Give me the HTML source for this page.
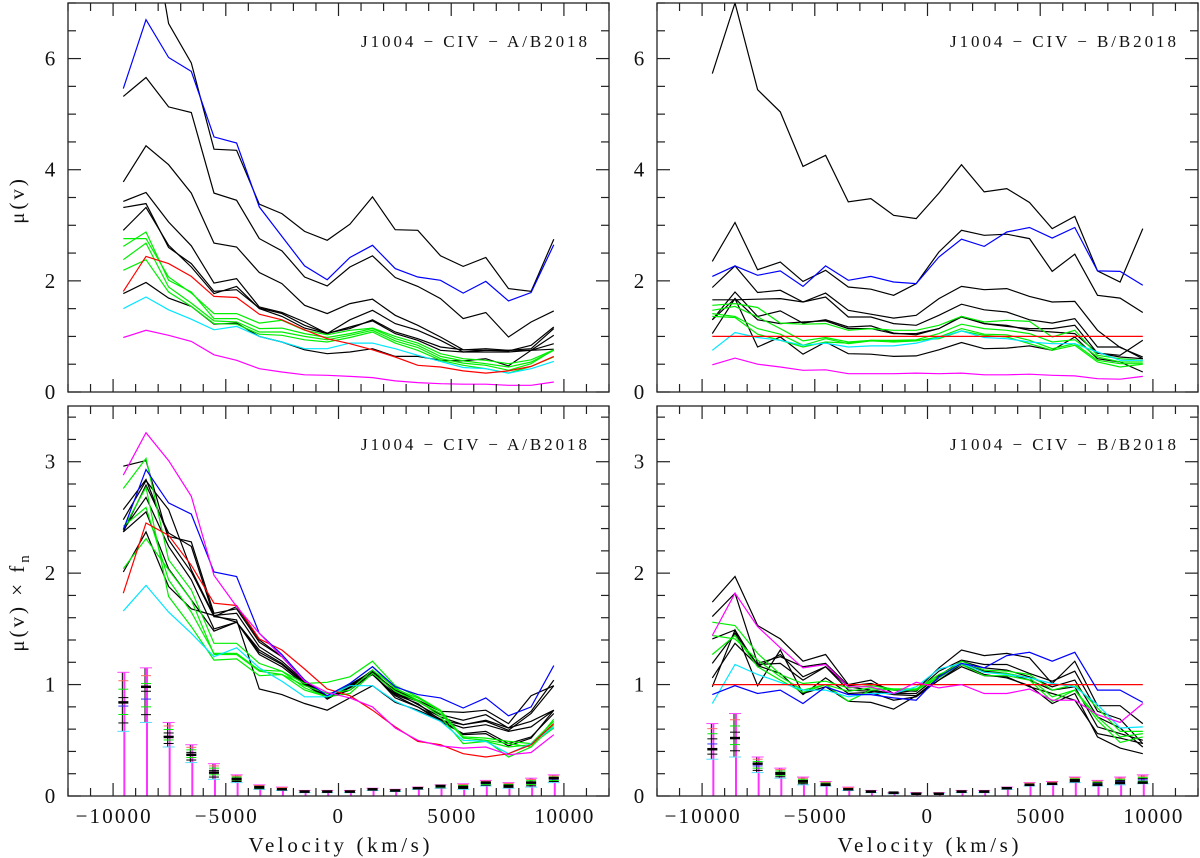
<!DOCTYPE html>
<html><head><meta charset="utf-8"><style>
html,body{margin:0;padding:0;background:#fff;}
svg{display:block;font-family:"Liberation Serif",serif;}
</style></head><body>
<svg id="fig" width="1200" height="858" viewBox="0 0 1200 858" xmlns="http://www.w3.org/2000/svg"></svg>
<script>
// ---- data ----
const velocities = [-9545,-8540,-7535,-6530,-5525,-4520,-3515,-2510,-1505,-500,505,1510,2515,3520,4525,5530,6535,7540,8545,9550];
const xTicksMajor = [-10000,-5000,0,5000,10000];
const xTickLabels = ["\u221210000","\u22125000","0","5000","10000"];
const yTicksTop = [0,2,4,6];
const yTicksBottom = [0,1,2,3];

// Top-left: mu(v), A/B2018
const tlBlack = [
 [9,9,6.63,5.92,4.37,4.35,3.38,3.21,2.89,2.73,3.02,3.51,2.92,2.91,2.45,2.26,2.42,1.86,1.81,2.75],
 [5.32,5.66,5.13,5.03,3.58,3.45,2.76,2.54,2.07,1.91,2.25,2.45,2.06,1.90,1.68,1.32,1.43,0.99,1.26,1.46],
 [3.78,4.43,4.09,3.58,2.68,2.61,2.15,1.95,1.56,1.41,1.59,1.67,1.38,1.20,0.99,0.76,0.75,0.74,0.84,1.17],
 [3.43,3.59,3.06,2.63,1.96,2.04,1.53,1.43,1.26,1.05,1.30,1.47,1.23,1.11,0.93,0.72,0.72,0.72,0.75,0.87],
 [3.32,3.39,2.60,2.31,1.81,1.84,1.51,1.41,1.20,1.06,1.14,1.30,1.08,0.96,0.81,0.76,0.78,0.75,0.78,1.14],
 [2.91,3.32,2.64,2.25,1.77,1.90,1.50,1.36,1.15,1.05,1.17,1.28,1.05,0.93,0.75,0.72,0.75,0.75,0.75,1.02],
 [1.77,1.97,1.69,1.54,1.22,1.24,1.00,0.90,0.76,0.69,0.72,0.78,0.64,0.64,0.57,0.56,0.60,0.47,0.75,0.77]
];
const tlGreen = [
 [2.76,2.76,2.07,1.78,1.41,1.41,1.24,1.29,1.11,1.03,1.11,1.15,1.00,0.88,0.69,0.60,0.57,0.51,0.58,0.76],
 [2.62,2.88,2.01,1.80,1.32,1.32,1.14,1.15,1.05,0.98,1.05,1.14,0.96,0.84,0.64,0.56,0.51,0.45,0.54,0.75],
 [2.38,2.68,1.89,1.60,1.28,1.26,1.08,1.08,1.00,0.94,1.02,1.11,0.92,0.80,0.60,0.52,0.48,0.39,0.51,0.76],
 [2.19,2.38,1.80,1.54,1.23,1.22,1.04,1.02,0.94,0.90,0.98,1.08,0.88,0.75,0.57,0.48,0.42,0.34,0.46,0.63]
];
const tlBlue = [5.46,6.70,6.02,5.77,4.59,4.48,3.33,2.80,2.27,2.02,2.42,2.64,2.22,2.07,2.01,1.78,1.99,1.64,1.79,2.65];
const tlRed = [1.81,2.44,2.31,2.08,1.72,1.70,1.40,1.30,1.12,0.96,0.87,0.76,0.63,0.48,0.45,0.38,0.34,0.38,0.46,0.64];
const tlCyan = [1.50,1.71,1.48,1.31,1.12,1.18,1.00,0.90,0.78,0.78,0.88,0.88,0.78,0.66,0.55,0.44,0.42,0.34,0.42,0.55];
const tlMagenta = [0.98,1.11,1.02,0.91,0.67,0.57,0.42,0.36,0.31,0.30,0.28,0.26,0.20,0.17,0.15,0.14,0.14,0.12,0.12,0.18];

// Top-right: mu(v), B/B2018
const trBlack = [
 [5.73,7.0,5.44,5.04,4.06,4.26,3.42,3.48,3.18,3.12,3.58,4.09,3.60,3.66,3.41,2.94,3.16,2.18,1.98,2.94],
 [2.35,3.05,2.20,2.34,1.99,2.19,1.89,1.85,1.74,1.95,2.52,2.91,2.82,2.84,2.76,2.17,2.48,1.74,1.69,1.43],
 [1.88,2.27,1.79,1.83,1.62,1.78,1.47,1.40,1.33,1.38,1.68,1.90,1.84,1.86,1.72,1.62,1.63,1.11,0.80,0.63],
 [1.66,1.66,1.67,1.68,1.62,1.71,1.35,1.35,1.23,1.20,1.38,1.58,1.48,1.44,1.30,1.24,1.32,0.81,0.81,0.60],
 [1.30,1.80,1.36,1.46,1.24,1.30,1.17,1.19,1.06,1.03,1.14,1.35,1.23,1.20,1.11,1.08,1.05,0.70,0.63,0.60],
 [1.05,1.68,1.30,1.23,1.26,1.28,1.14,1.14,1.05,1.05,1.14,1.36,1.23,1.18,1.14,1.14,1.20,0.70,0.66,0.93],
 [1.30,1.68,0.81,0.99,0.68,0.90,0.69,0.68,0.64,0.65,0.76,0.89,0.78,0.79,0.83,0.75,0.99,0.60,0.54,0.36]
];
const trGreen = [
 [1.56,1.59,1.52,1.24,1.22,1.23,1.11,1.14,1.11,1.11,1.20,1.36,1.26,1.29,1.27,0.99,1.11,0.66,0.60,0.57],
 [1.47,1.54,1.35,1.14,0.92,0.98,0.90,0.93,0.93,0.94,1.05,1.22,1.14,1.11,1.05,0.90,0.94,0.63,0.54,0.54],
 [1.41,1.36,1.14,1.04,0.84,0.96,0.87,0.92,0.90,0.92,0.99,1.14,1.04,1.03,0.93,0.78,0.87,0.57,0.51,0.51],
 [1.36,1.34,1.04,0.93,0.81,0.90,0.88,0.93,0.92,0.93,0.96,1.10,1.02,0.99,0.87,0.75,0.84,0.54,0.45,0.50]
];
const trBlue = [2.08,2.27,2.10,2.18,1.90,2.27,2.01,2.08,1.98,1.95,2.43,2.75,2.62,2.88,2.96,2.77,2.96,2.18,2.17,1.92];
const trRed = [1,1,1,1,1,1,1,1,1,1,1,1,1,1,1,1,1,1,1,1];
const trCyan = [0.75,1.07,0.98,0.93,0.84,0.88,0.81,0.83,0.83,0.88,0.98,1.10,0.98,0.96,0.90,0.87,0.87,0.72,0.57,0.57];
const trMagenta = [0.49,0.61,0.50,0.45,0.39,0.40,0.33,0.33,0.33,0.34,0.33,0.34,0.31,0.31,0.32,0.30,0.29,0.24,0.23,0.28];

// Bottom-left: mu(v) x fn, A/B2018
const blBlack = [
 [2.96,3.01,2.30,2.01,1.61,1.70,1.40,1.25,1.04,0.87,0.98,1.13,0.92,0.85,0.73,0.68,0.73,0.61,0.76,1.04],
 [2.57,2.84,2.33,2.28,1.64,1.68,1.38,1.25,1.03,0.89,0.99,1.11,0.95,0.86,0.76,0.75,0.77,0.65,0.90,0.99],
 [2.48,2.83,2.57,2.03,1.62,1.64,1.34,1.21,1.03,0.89,1.00,1.12,0.93,0.82,0.71,0.64,0.68,0.61,0.67,0.77],
 [2.39,2.68,2.24,1.94,1.50,1.56,1.29,1.18,1.01,0.88,0.98,1.09,0.91,0.83,0.68,0.61,0.64,0.58,0.62,0.77],
 [2.37,2.55,2.04,1.76,1.48,1.56,1.27,1.16,1.00,0.88,0.97,1.09,0.90,0.80,0.67,0.56,0.58,0.47,0.53,0.74],
 [2.01,2.37,1.88,1.68,1.62,1.56,1.31,1.19,1.02,0.88,0.95,1.10,0.88,0.80,0.69,0.55,0.56,0.45,0.52,0.77],
 [2.37,2.79,2.36,2.24,1.61,1.58,0.96,0.91,0.83,0.77,0.88,0.99,0.84,0.77,0.68,0.64,0.67,0.59,0.74,0.99]
];
const blGreen = [
 [2.76,3.03,2.12,1.85,1.37,1.37,1.19,1.12,1.01,1.02,1.07,1.21,0.99,0.89,0.77,0.52,0.50,0.35,0.44,0.69],
 [2.04,2.31,2.03,1.76,1.27,1.27,1.12,1.09,0.99,0.92,0.95,1.13,0.97,0.86,0.71,0.47,0.49,0.44,0.46,0.61],
 [2.40,2.77,1.79,1.52,1.22,1.23,1.08,1.09,0.95,0.89,1.01,1.16,0.96,0.88,0.76,0.53,0.52,0.49,0.47,0.67],
 [2.42,2.59,1.94,1.65,1.28,1.28,1.13,1.12,0.97,0.89,0.92,1.10,0.94,0.85,0.74,0.52,0.50,0.47,0.44,0.64]
];
const blBlue = [2.39,2.93,2.63,2.53,2.01,1.97,1.46,1.27,1.04,0.90,1.01,1.16,0.98,0.91,0.88,0.79,0.88,0.72,0.80,1.17];
const blRed = [1.82,2.45,2.34,2.07,1.73,1.71,1.41,1.31,1.14,0.96,0.90,0.77,0.62,0.49,0.46,0.38,0.35,0.38,0.46,0.65];
const blCyan = [1.66,1.89,1.65,1.46,1.25,1.33,1.15,1.03,0.89,0.89,0.99,0.99,0.85,0.76,0.67,0.50,0.49,0.38,0.47,0.62];
const blMagenta = [2.88,3.26,3.01,2.69,1.98,1.70,1.46,1.25,1.03,0.93,0.88,0.80,0.61,0.50,0.45,0.43,0.44,0.37,0.39,0.55];
const blErrCenter = [0.84,0.98,0.53,0.37,0.21,0.15,0.08,0.06,0.04,0.04,0.04,0.06,0.05,0.07,0.09,0.08,0.12,0.09,0.12,0.16];
const blErrHi = [1.11,1.15,0.66,0.46,0.29,0.19,0.10,0.08,0.05,0.05,0.05,0.07,0.06,0.08,0.10,0.11,0.14,0.12,0.16,0.19];
const blErrLo = [0.58,0.66,0.44,0.30,0.15,0.12,0.06,0.05,0.03,0.03,0.03,0.05,0.04,0.06,0.07,0.06,0.09,0.07,0.08,0.12];

// Bottom-right: mu(v) x fn, B/B2018
const brBlack = [
 [1.74,1.97,1.53,1.41,1.21,1.27,1.00,1.04,0.92,0.95,1.15,1.31,1.26,1.28,1.24,1.01,1.21,0.81,0.81,0.65],
 [1.61,1.82,1.19,1.25,1.16,1.19,0.99,1.01,0.95,0.94,1.12,1.22,1.18,1.18,1.10,1.03,1.12,0.76,0.69,0.47],
 [1.41,1.49,1.16,1.27,1.07,1.16,0.98,0.95,0.92,0.92,1.08,1.21,1.15,1.13,1.07,0.98,1.04,0.71,0.61,0.44],
 [1.19,1.46,1.18,1.19,1.04,1.16,0.95,0.94,0.91,0.90,1.06,1.19,1.12,1.10,1.04,0.95,0.98,0.62,0.56,0.50],
 [1.06,1.37,1.17,1.10,0.91,1.06,0.92,0.93,0.86,0.89,1.04,1.18,1.09,1.06,0.99,0.83,0.92,0.53,0.43,0.38],
 [0.98,1.49,0.99,1.31,0.92,0.98,0.85,0.84,0.78,0.90,1.04,1.16,1.08,1.07,0.98,0.92,0.86,0.56,0.52,0.47]
];
const brGreen = [
 [1.56,1.53,1.28,1.09,1.01,1.03,0.97,0.99,0.96,0.96,1.07,1.21,1.13,1.12,1.09,0.95,1.00,0.79,0.58,0.58],
 [1.44,1.41,1.22,1.07,0.95,1.00,0.94,0.97,0.95,0.95,1.06,1.19,1.11,1.10,1.06,0.89,0.95,0.71,0.53,0.56],
 [1.27,1.44,1.16,1.04,0.93,1.00,0.85,0.95,0.96,0.96,1.09,1.18,1.08,1.08,1.04,0.85,0.95,0.68,0.48,0.53]
];
const brBlue = [0.91,0.99,0.92,0.95,0.83,0.98,0.91,0.91,0.88,0.86,1.07,1.19,1.15,1.26,1.29,1.21,1.29,0.95,0.95,0.84];
const brRed = [1,1,1,1,1,1,1,1,1,1,1,1,1,1,1,1,1,1,1,1];
const brCyan = [0.83,1.18,1.09,1.02,0.95,0.95,0.89,0.92,0.92,0.98,1.14,1.19,1.11,1.09,1.06,1.01,0.98,0.82,0.61,0.62];
const brMagenta = [1.44,1.82,1.52,1.33,1.15,1.18,0.98,0.98,0.92,1.02,0.97,1.00,0.92,0.92,0.96,0.86,0.86,0.73,0.66,0.83];
const brErrCenter = [0.42,0.52,0.29,0.20,0.13,0.10,0.06,0.04,0.03,0.02,0.02,0.04,0.04,0.07,0.10,0.11,0.14,0.10,0.12,0.12];
const brErrHi = [0.65,0.74,0.35,0.25,0.17,0.13,0.08,0.05,0.03,0.03,0.03,0.05,0.05,0.08,0.12,0.13,0.17,0.14,0.17,0.19];
const brErrLo = [0.33,0.35,0.21,0.16,0.10,0.09,0.05,0.03,0.02,0.02,0.02,0.03,0.03,0.06,0.09,0.10,0.12,0.09,0.10,0.11];

// ---- drawing ----
const NS = "http://www.w3.org/2000/svg";
const svg = document.getElementById('fig');
function mk(tag, attrs, parent) {
  const e = document.createElementNS(NS, tag);
  for (const k in attrs) e.setAttribute(k, attrs[k]);
  (parent || svg).appendChild(e);
  return e;
}
const XMIN = -12000, XMAX = 12000;
const labelWidths = {"\u221210000": 75, "\u22125000": 62, "0": 12, "5000": 48, "10000": 59};

function panel(id, px0, px1, py0, py1, ymax, yMinor, yMajor, yTicks, showX, title, lines, errs) {
  const g = mk('g', {});
  
  
  const sx = v => px0 + (v - XMIN) / (XMAX - XMIN) * (px1 - px0);
  const sy = v => py1 - v / ymax * (py1 - py0);
  const clipId = 'clip-' + id;
  const cp = mk('clipPath', {id: clipId}, g);
  mk('rect', {x: px0, y: py0, width: px1 - px0, height: py1 - py0}, cp);
  const plot = mk('g', {'clip-path': 'url(#' + clipId + ')'}, g);

  if (errs) {
    const eg = mk('g', {}, plot);
    
    
    velocities.forEach((v, i) => {
      const x = sx(v), c = errs[0][i], hi = errs[1][i], lo = errs[2][i];
      mk('line', {x1: x + 1, x2: x + 1, y1: sy(0), y2: sy(hi), stroke: '#ff33ff', 'stroke-width': 2}, eg);
      mk('line', {x1: x - 1, x2: x - 1, y1: sy(lo), y2: sy(hi), stroke: '#000', 'stroke-width': 1}, eg);
      mk('line', {x1: x - 6, x2: x + 6, y1: sy(hi), y2: sy(hi), stroke: '#ff44ff', 'stroke-width': 1}, eg);
      mk('line', {x1: x - 6, x2: x + 6, y1: sy(lo), y2: sy(lo), stroke: '#55ddff', 'stroke-width': 1}, eg);
      const cols = ['#000', '#00ee00', '#3333ff', '#000', '#00ee00', '#ff6666'];
      cols.forEach((col, k) => {
        const f = (k + 1) / (cols.length + 1);
        const yv = lo + (hi - lo) * f;
        mk('line', {x1: x - 5, x2: x + 5, y1: sy(yv), y2: sy(yv), stroke: col, 'stroke-width': 1}, eg);
      });
      mk('line', {x1: x - 5, x2: x + 5, y1: sy(c), y2: sy(c), stroke: '#000', 'stroke-width': 2.5}, eg);
    });
  }
  lines.forEach(([arr, col, name]) => {
    const pts = velocities.map((v, i) => sx(v).toFixed(1) + ',' + sy(arr[i]).toFixed(1)).join(' ');
    const pl = mk('polyline', {points: pts, fill: 'none', stroke: col, 'stroke-width': 1.2, 'stroke-linejoin': 'miter'}, plot);
    
    
  });

  const fr = mk('rect', {x: px0, y: py0, width: px1 - px0, height: py1 - py0, fill: 'none', stroke: '#222', 'stroke-width': 1.3}, g);
  
  
  for (let v = -12000; v <= 12000; v += 1000) {
    const x = sx(v), L = (v % 5000 === 0) ? 13 : 8;
    mk('line', {x1: x, x2: x, y1: py1, y2: py1 - L, stroke: '#222', 'stroke-width': 1.2}, g);
    mk('line', {x1: x, x2: x, y1: py0, y2: py0 + L, stroke: '#222', 'stroke-width': 1.2}, g);
  }
  for (let k = 0; k * yMinor <= ymax + 1e-9; k++) {
    const v = k * yMinor, y = sy(v);
    const maj = Math.abs(v / yMajor - Math.round(v / yMajor)) < 1e-6;
    const L = maj ? 13 : 8;
    mk('line', {x1: px0, x2: px0 + L, y1: y, y2: y, stroke: '#222', 'stroke-width': 1.2}, g);
    mk('line', {x1: px1, x2: px1 - L, y1: y, y2: y, stroke: '#222', 'stroke-width': 1.2}, g);
  }
  yTicks.forEach(v => {
    const t = mk('text', {x: px0 - 18, y: sy(v) + 7, 'text-anchor': 'middle', 'font-size': 21, fill: '#111'}, g);
    t.textContent = String(v);
    
    
  });
  if (showX) {
    xTicksMajor.forEach((v, i) => {
      const lbl = xTickLabels[i];
      const w = labelWidths[lbl] || 50;
      const t = mk('text', {x: sx(v) - w / 2, y: py1 + 27, 'font-size': 21, fill: '#111', textLength: w, lengthAdjust: 'spacing'}, g);
      t.textContent = lbl;
      
      
    });
    const xt = mk('text', {x: sx(0) - 90, y: py1 + 56, 'font-size': 21, fill: '#111', textLength: 181, lengthAdjust: 'spacing'}, g);
    xt.textContent = 'Velocity (km/s)';
    
    
  }
  const tt = mk('text', {x: px1 - 248, y: py0 + 44, 'font-size': 17, fill: '#111', 'xml:space': 'preserve', textLength: 226, lengthAdjust: 'spacing'}, g);
  tt.textContent = title;
  
  
}

function series(black, green, blue, red, cyan, magenta) {
  const out = [];
  black.forEach((a, i) => out.push([a, '#000', 'black-line-' + (i + 1)]));
  green.forEach((a, i) => out.push([a, '#00ee00', 'green-line-' + (i + 1)]));
  out.push([cyan, '#00e5ff', 'cyan-line']);
  out.push([red, '#ff0000', 'red-line']);
  out.push([blue, '#0000ff', 'blue-line']);
  out.push([magenta, '#ff00ff', 'magenta-line']);
  return out;
}

panel('panel-top-left', 68, 609, 3, 392, 7, 0.5, 2, yTicksTop, false, 'J1004  \u2212  CIV  \u2212  A/B2018',
  series(tlBlack, tlGreen, tlBlue, tlRed, tlCyan, tlMagenta), null);
panel('panel-top-right', 657, 1198, 3, 392, 7, 0.5, 2, yTicksTop, false, 'J1004  \u2212  CIV  \u2212  B/B2018',
  series(trBlack, trGreen, trBlue, trRed, trCyan, trMagenta), null);
panel('panel-bottom-left', 68, 609, 406, 796, 3.5, 0.2, 1, yTicksBottom, true, 'J1004  \u2212  CIV  \u2212  A/B2018',
  series(blBlack, blGreen, blBlue, blRed, blCyan, blMagenta), [blErrCenter, blErrHi, blErrLo]);
panel('panel-bottom-right', 657, 1198, 406, 796, 3.5, 0.2, 1, yTicksBottom, true, 'J1004  \u2212  CIV  \u2212  B/B2018',
  series(brBlack, brGreen, brBlue, brRed, brCyan, brMagenta), [brErrCenter, brErrHi, brErrLo]);

const y1 = mk('text', {x: 0, y: 0, transform: 'translate(24,200) rotate(-90)', 'text-anchor': 'middle', 'font-size': 21, 'letter-spacing': 3, fill: '#111'});
y1.textContent = '\u03bc(v)';


const y2 = mk('text', {x: 0, y: 0, transform: 'translate(24,602) rotate(-90)', 'text-anchor': 'middle', 'font-size': 21, 'letter-spacing': 3, fill: '#111'});
y2.textContent = '\u03bc(v) \u00d7 f';
const sub = mk('tspan', {'font-size': 15, dy: 5}, y2);
sub.textContent = 'n';


</script>
</body></html>
